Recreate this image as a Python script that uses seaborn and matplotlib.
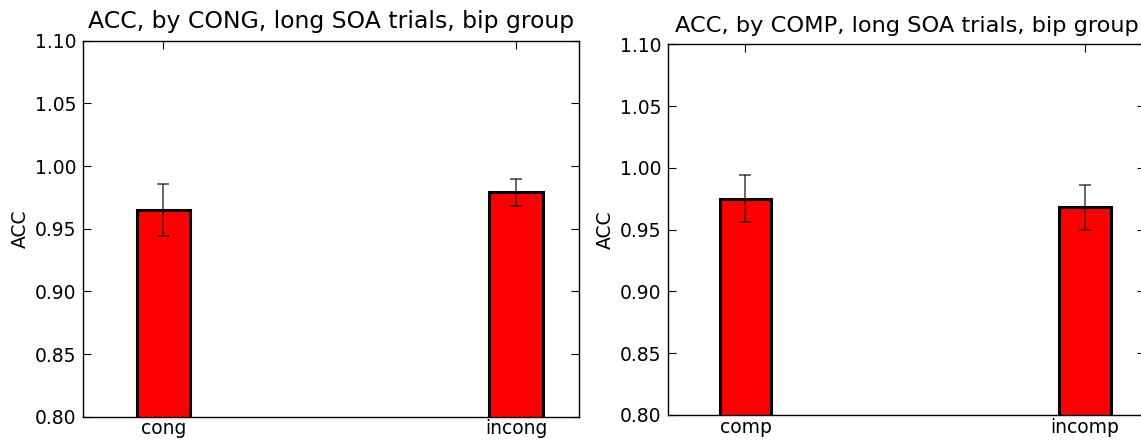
import matplotlib
matplotlib.use("Agg")
import matplotlib.pyplot as plt
import seaborn as sns
import pandas as pd

# Mean accuracy and error per condition, long SOA trials, bip group
cong_labels = ["cong", "incong"]
cong_acc = [0.965, 0.979]
cong_err = [0.021, 0.011]

comp_labels = ["comp", "incomp"]
comp_acc = [0.975, 0.968]
comp_err = [0.019, 0.018]

y_ticks = [0.80, 0.85, 0.90, 0.95, 1.00, 1.05, 1.10]

sns.set_style("white")
plt.rcParams["font.family"] = ["DejaVu Sans"]
plt.rcParams["text.color"] = "black"
plt.rcParams["axes.labelcolor"] = "black"
plt.rcParams["xtick.color"] = "black"
plt.rcParams["ytick.color"] = "black"

fig = plt.figure(figsize=(11.41, 4.41), dpi=100)
ax_left = fig.add_axes([0.0731, 0.0551, 0.434, 0.8526])
ax_right = fig.add_axes([0.5858, 0.0590, 0.4177, 0.8406])

panels = [
    (ax_left, cong_labels, cong_acc, cong_err,
     "ACC, by CONG, long SOA trials, bip group", 16.9),
    (ax_right, comp_labels, comp_acc, comp_err,
     "ACC, by COMP, long SOA trials, bip group", 16.2),
]

for ax, labels, acc, err, title, title_size in panels:
    df = pd.DataFrame({"cond": labels, "ACC": acc})
    sns.barplot(data=df, x="cond", y="ACC", order=labels, color="red",
                saturation=1, width=0.152, edgecolor="black", linewidth=2.2,
                errorbar=None, ax=ax)
    ax.errorbar(range(len(labels)), acc, yerr=err, fmt="none",
                ecolor="black", elinewidth=1.1, capsize=4, capthick=1.1,
                alpha=0.75, zorder=5)
    ax.set_xlim(-0.227, 1.177)
    ax.set_ylim(0.80, 1.10)
    ax.set_yticks(y_ticks)
    ax.set_yticklabels([f"{v:.2f}" for v in y_ticks])
    ax.set_xlabel("")
    ax.set_ylabel("ACC", fontsize=13.5, labelpad=4, color="black")
    ax.set_title(title, fontsize=title_size, pad=9, color="black")
    ax.tick_params(axis="both", which="major", direction="in", length=5.6,
                   width=0.8, labelsize=13.5, top=True, right=True,
                   bottom=True, left=True, color="black",
                   labelcolor="black", pad=5)
    ax.tick_params(axis="x", pad=2)
    for spine in ax.spines.values():
        spine.set_color("black")
        spine.set_linewidth(1.0)

fig.savefig("out.png", dpi=100)
